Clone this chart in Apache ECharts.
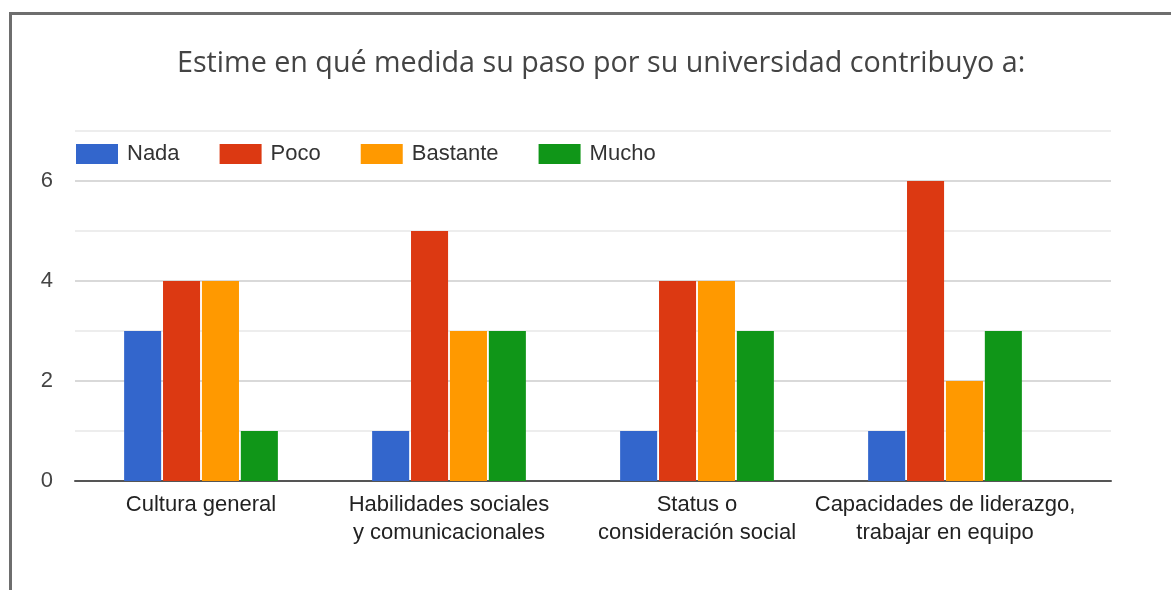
<!DOCTYPE html>
<html>
<head>
<meta charset="utf-8">
<script src="https://cdn.jsdelivr.net/npm/echarts@6/dist/echarts.min.js"></script>
<style>
  html, body { margin: 0; padding: 0; background: #fff; }
  #frame {
    position: absolute; left: 9px; top: 12px; width: 1200px; height: 620px;
    border-left: 3px solid #6e6e6e; border-top: 3px solid #6e6e6e;
  }
  #chart { position: absolute; left: 0; top: 0; width: 1171px; height: 590px; }
</style>
</head>
<body>
<div id="frame"></div>
<div id="chart"></div>
<script>
const categories = [
  'Cultura general',
  'Habilidades sociales\ny comunicacionales',
  'Status o\nconsideración social',
  'Capacidades de liderazgo,\ntrabajar en equipo'
]
const nada = [3, 1, 1, 1]
const poco = [4, 5, 4, 6]
const bastante = [4, 3, 4, 2]
const mucho = [1, 3, 3, 3]

const seriesNames = ['Nada', 'Poco', 'Bastante', 'Mucho']
const colors = ['#3366cc', '#dc3912', '#ff9900', '#109618']
const seriesData = [nada, poco, bastante, mucho]

const chart = echarts.init(document.getElementById('chart'))
chart.setOption({
  animation: false,
  color: colors,
  title: {
    text: 'Estime en qué medida su paso por su universidad contribuyo a:',
    left: 172,
    top: 44,
    textStyle: {
      fontFamily: 'Open Sans',
      fontSize: 28.7,
      fontWeight: 'normal',
      color: '#444'
    }
  },
  legend: {
    left: 71,
    top: 138,
    itemWidth: 42,
    itemHeight: 20,
    itemGap: 40,
    icon: 'rect',
    textStyle: {
      fontFamily: 'Liberation Sans',
      fontSize: 22,
      color: '#333',
      padding: [0, 0, 0, 4]
    },
    data: seriesNames
  },
  // grid 0 : gridlines + axis line across the full width
  // grid 1 : the bars, narrower like in the original
  grid: [
    { left: 75, right: 60, top: 131, bottom: 109 },
    { left: 77, right: 102, top: 131, bottom: 109 }
  ],
  xAxis: [
    {
      gridIndex: 0,
      type: 'value',
      min: 0,
      max: 1,
      axisLabel: { show: false },
      axisTick: { show: false },
      splitLine: { show: false },
      axisLine: { show: true, onZero: false, lineStyle: { color: '#555', width: 2 } }
    },
    {
      gridIndex: 1,
      type: 'category',
      data: categories,
      axisTick: { show: false },
      axisLine: { show: false },
      axisLabel: {
        interval: 0,
        margin: 10,
        fontFamily: 'Liberation Sans',
        fontSize: 22,
        lineHeight: 28,
        color: '#222'
      }
    }
  ],
  yAxis: [
    {
      gridIndex: 0,
      type: 'value',
      min: 0,
      max: 7,
      interval: 1,
      axisLine: { show: false },
      axisTick: { show: false },
      axisLabel: {
        margin: 22,
        fontFamily: 'Liberation Sans',
        fontSize: 22,
        color: '#444',
        formatter: v => (v % 2 === 0 ? String(v) : '')
      },
      splitLine: {
        lineStyle: { color: ['#d9d9d9', '#ededed'], width: 2 }
      }
    },
    {
      gridIndex: 1,
      type: 'value',
      min: 0,
      max: 7,
      show: false,
      splitLine: { show: false }
    }
  ],
  series: seriesData.map((d, i) => ({
    name: seriesNames[i],
    type: 'bar',
    xAxisIndex: 1,
    yAxisIndex: 1,
    data: d,
    barGap: '5%',
    barCategoryGap: '38%'
  }))
})
</script>
</body>
</html>
